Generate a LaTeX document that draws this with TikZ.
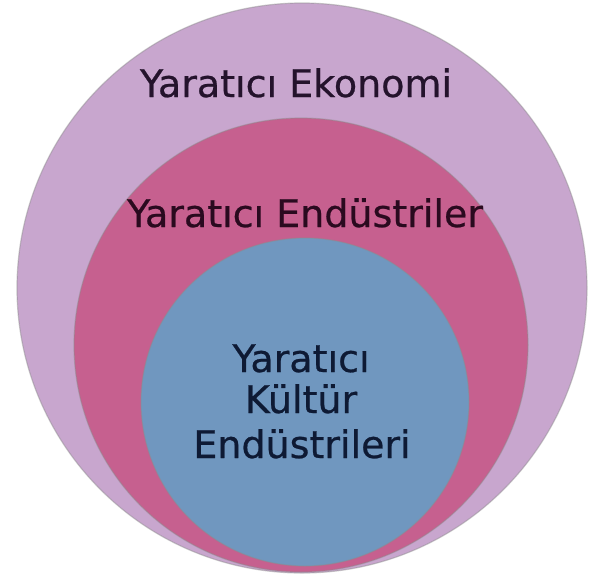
\documentclass[tikz,border=0pt]{standalone}
\usepackage{fontspec}
\setmainfont{DejaVu Sans}
\newfontfamily\labelfont{DejaVu Sans}[FakeBold=0.6]
\definecolor{lavender}{HTML}{C8A6CE}
\definecolor{rosepink}{HTML}{C6608F}
\definecolor{steelblue}{HTML}{7097BF}
\definecolor{inkA}{HTML}{24132C}
\definecolor{inkB}{HTML}{2A0A1F}
\definecolor{inkC}{HTML}{0E1A34}
\begin{document}
\begin{tikzpicture}[x=1pt,y=-1pt,
  ring/.style={circle,inner sep=0pt,draw=black!45,line width=1.2pt,draw opacity=0.45},
  label/.style={font=\labelfont\fontsize{38}{43}\selectfont,anchor=base,inner sep=0pt}]
\useasboundingbox (0,0) rectangle (601,576);
\fill[white] (0,0) rectangle (601,576);
\node[ring,fill=lavender,minimum size=570pt] (outer) at (302,288) {};
\node[ring,fill=rosepink,minimum size=454pt] (middle) at (301,345) {};
\node[ring,fill=steelblue,minimum size=328pt] (inner) at (305,402) {};
\node[label,text=inkA] (ekonomi) at (296,97) {Yaratıcı Ekonomi};
\node[label,text=inkB] (endustriler) at (305,227) {Yaratıcı Endüstriler};
\node[label,text=inkC] (kultur1) at (301,372) {Yaratıcı};
\node[label,text=inkC] (kultur2) at (301,413) {Kültür};
\node[label,text=inkC] (kultur3) at (302,458) {Endüstrileri};
\end{tikzpicture}
\end{document}
